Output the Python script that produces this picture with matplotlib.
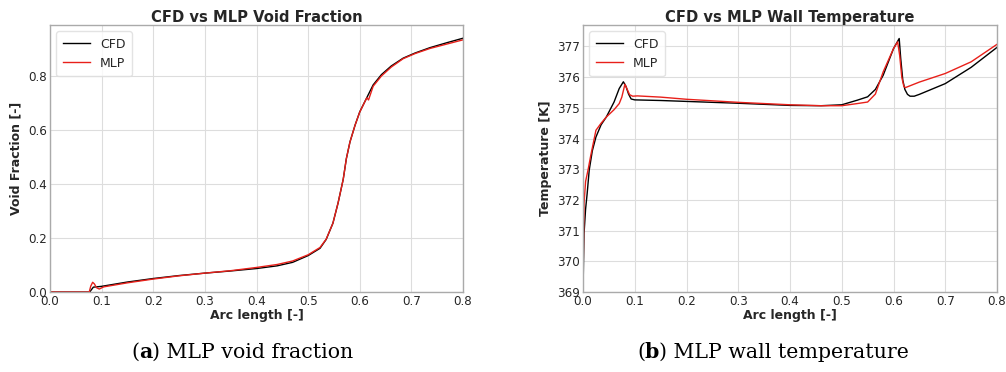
import matplotlib
matplotlib.use('Agg')
import matplotlib.pyplot as plt
import numpy as np

# void fraction vs arc length
vf_x_cfd = [0.0, 0.077, 0.08, 0.084, 0.09, 0.1, 0.15, 0.2, 0.25, 0.3, 0.35, 0.4, 0.44, 0.47, 0.5,
            0.523, 0.535, 0.548, 0.558, 0.568, 0.574, 0.581, 0.591, 0.6, 0.613, 0.626,
            0.642, 0.661, 0.684, 0.707, 0.736, 0.77, 0.8]
vf_cfd = [0.0, 0.0, 0.008, 0.018, 0.019, 0.021, 0.037, 0.05, 0.061, 0.07, 0.078, 0.087, 0.097, 0.11, 0.135,
          0.162, 0.195, 0.255, 0.33, 0.418, 0.494, 0.556, 0.619, 0.668, 0.718, 0.768,
          0.806, 0.838, 0.867, 0.886, 0.906, 0.925, 0.941]
vf_x_mlp = [0.0, 0.076, 0.079, 0.0826, 0.086, 0.09, 0.0955, 0.104, 0.15, 0.2, 0.25, 0.3, 0.35, 0.4,
            0.44, 0.47, 0.5, 0.523, 0.535, 0.548, 0.558, 0.568, 0.574, 0.581, 0.591, 0.6,
            0.611, 0.614, 0.617, 0.626, 0.642, 0.661, 0.684, 0.707, 0.736, 0.77, 0.8]
vf_mlp = [0.0, 0.0, 0.022, 0.036, 0.03, 0.016, 0.011, 0.019, 0.034, 0.048, 0.06, 0.07, 0.079, 0.091,
          0.102, 0.115, 0.138, 0.165, 0.196, 0.255, 0.33, 0.418, 0.494, 0.556, 0.619, 0.667,
          0.71, 0.72, 0.712, 0.763, 0.801, 0.834, 0.865, 0.884, 0.903, 0.92, 0.935]

# wall temperature vs arc length
t_x_cfd = [0.0, 0.002, 0.005, 0.008, 0.012, 0.018, 0.025, 0.035, 0.045, 0.06, 0.07, 0.078, 0.083,
           0.088, 0.093, 0.1, 0.15, 0.2, 0.3, 0.4, 0.46, 0.5, 0.53, 0.55, 0.565, 0.58, 0.6,
           0.611, 0.614, 0.618, 0.622, 0.627, 0.632, 0.64, 0.65, 0.7, 0.75, 0.8]
t_cfd = [369.0, 370.9, 371.7, 372.2, 372.97, 373.6, 374.05, 374.45, 374.7, 375.19, 375.63, 375.85, 375.7,
         375.45, 375.29, 375.26, 375.24, 375.21, 375.15, 375.08, 375.07, 375.1, 375.25, 375.36, 375.6, 376.06, 376.93,
         377.26, 376.6, 375.9, 375.6, 375.44, 375.38, 375.38, 375.44, 375.79, 376.32, 376.97]
t_x_mlp = [0.0, 0.002, 0.005, 0.01, 0.015, 0.025, 0.035, 0.045, 0.06, 0.07, 0.075, 0.081, 0.085,
           0.09, 0.096, 0.105, 0.15, 0.2, 0.3, 0.4, 0.46, 0.5, 0.53, 0.55, 0.565, 0.58, 0.6,
           0.608, 0.612, 0.616, 0.62, 0.623, 0.65, 0.7, 0.75, 0.8]
t_mlp = [369.2, 371.9, 372.6, 373.0, 373.45, 374.27, 374.5, 374.7, 374.94, 375.14, 375.35, 375.77, 375.62,
         375.43, 375.38, 375.39, 375.35, 375.28, 375.18, 375.1, 375.07, 375.07, 375.14, 375.19, 375.45, 376.17, 376.93,
         377.15, 376.7, 376.0, 375.7, 375.66, 375.84, 376.12, 376.5, 377.07]

plt.rcParams['font.family'] = 'DejaVu Sans'
tc = '#262626'

fig = plt.figure(figsize=(10.06, 3.72), dpi=100)
ax1 = fig.add_axes([50/1006, 1-292/372, 413/1006, 267/372])
ax2 = fig.add_axes([583/1006, 1-292/372, 414/1006, 267/372])

def style(ax):
    ax.set_facecolor('white')
    ax.grid(True, color='#dddddd', linewidth=0.8)
    ax.set_axisbelow(True)
    for s in ax.spines.values():
        s.set_color('#aaaaaa')
        s.set_linewidth(1.0)
    ax.tick_params(colors=tc, labelsize=8.6, length=0, pad=2)
    ax.set_xlim(0, 0.8)
    ax.set_xticks(np.arange(0, 0.81, 0.1))
    ax.set_xlabel('Arc length [-]', fontsize=9, fontweight='bold', color=tc, labelpad=1)
    leg = ax.legend(loc='upper left', fontsize=9, frameon=True, fancybox=True,
                    handlelength=2.2, borderpad=0.5, labelspacing=0.5)
    leg.get_frame().set_edgecolor('#dddddd')
    for t in leg.get_texts():
        t.set_color(tc)

ax1.plot(vf_x_cfd, vf_cfd, color='black', lw=1.0, label='CFD')
ax1.plot(vf_x_mlp, vf_mlp, color='#e8201a', lw=1.0, label='MLP')
ax1.set_ylim(0, 0.99)
ax1.set_yticks([0.0, 0.2, 0.4, 0.6, 0.8])
ax1.set_title('CFD vs MLP Void Fraction', fontsize=10.6, fontweight='bold', color=tc, pad=2)
ax1.set_ylabel('Void Fraction [-]', fontsize=9, fontweight='bold', color=tc)
style(ax1)

ax2.plot(t_x_cfd, t_cfd, color='black', lw=1.0, label='CFD')
ax2.plot(t_x_mlp, t_mlp, color='#e8201a', lw=1.0, label='MLP')
ax2.set_ylim(369, 377.7)
ax2.set_yticks(range(369, 378))
ax2.set_title('CFD vs MLP Wall Temperature', fontsize=10.6, fontweight='bold', color=tc, pad=2)
ax2.set_ylabel('Temperature [K]', fontsize=9, fontweight='bold', color=tc)
style(ax2)

# captions below the panels: "(", bold letter, rest
fig.canvas.draw()
rend = fig.canvas.get_renderer()
inv = fig.transFigure.inverted()

def caption(x, y, parts):
    for s, w in parts:
        t = fig.text(x, y, s, ha='left', va='baseline', fontsize=14.8,
                     family='DejaVu Serif', fontweight=w)
        bb = t.get_window_extent(renderer=rend)
        x = inv.transform((bb.x1, bb.y0))[0]

yc = 1 - 358/372
caption(131/1006, yc, [('(', 'normal'), ('a', 'bold'), (') MLP void fraction', 'normal')])
caption(637/1006, yc, [('(', 'normal'), ('b', 'bold'), (') MLP wall temperature', 'normal')])

fig.savefig('out.png', dpi=100)
